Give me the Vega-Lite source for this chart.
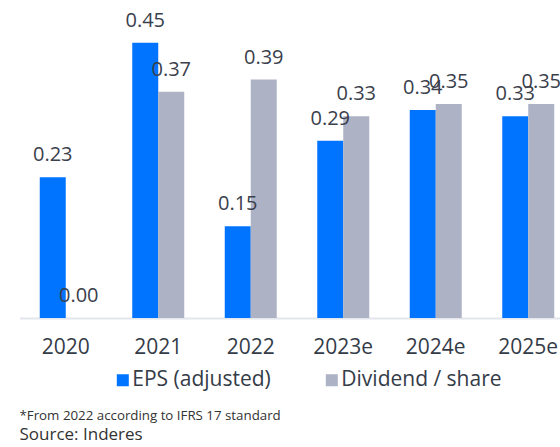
{
  "$schema": "https://vega.github.io/schema/vega-lite/v6.json",
  "autosize": "none",
  "padding": {"left": 19.5, "top": 0, "right": 0, "bottom": 129},
  "width": 555,
  "height": 318,
  "title": {
    "text": "*From 2022 according to IFRS 17 standard",
    "subtitle": "Source: Inderes",
    "orient": "bottom",
    "anchor": "start",
    "frame": "bounds",
    "font": "Open Sans",
    "fontSize": 13.3,
    "fontWeight": "normal",
    "color": "#333333",
    "subtitleFont": "Open Sans",
    "subtitleFontSize": 17,
    "subtitleColor": "#333333",
    "baseline": "top",
    "offset": 18.5,
    "subtitlePadding": 5
  },
  "data": {
    "values": [
      {"year": "2020", "series": "EPS (adjusted)", "value": 0.23},
      {"year": "2020", "series": "Dividend / share", "value": 0.0},
      {"year": "2021", "series": "EPS (adjusted)", "value": 0.45},
      {"year": "2021", "series": "Dividend / share", "value": 0.37},
      {"year": "2022", "series": "EPS (adjusted)", "value": 0.15},
      {"year": "2022", "series": "Dividend / share", "value": 0.39},
      {"year": "2023e", "series": "EPS (adjusted)", "value": 0.29},
      {"year": "2023e", "series": "Dividend / share", "value": 0.33},
      {"year": "2024e", "series": "EPS (adjusted)", "value": 0.34},
      {"year": "2024e", "series": "Dividend / share", "value": 0.35},
      {"year": "2025e", "series": "EPS (adjusted)", "value": 0.33},
      {"year": "2025e", "series": "Dividend / share", "value": 0.35}
    ]
  },
  "encoding": {
    "x": {
      "field": "year",
      "type": "nominal",
      "sort": null,
      "scale": {"paddingInner": 0.438, "paddingOuter": 0.219},
      "axis": {
        "title": null,
        "labelAngle": 0,
        "ticks": false,
        "tickSize": 0,
        "domainColor": "#e3e6eb",
        "domainWidth": 2,
        "labelFont": "Open Sans",
        "labelFontSize": 21,
        "labelColor": "#343c48",
        "labelPadding": 18.7
      }
    },
    "xOffset": {
      "field": "series",
      "type": "nominal",
      "sort": ["EPS (adjusted)", "Dividend / share"],
      "scale": {"paddingInner": 0, "paddingOuter": 0}
    },
    "y": {
      "field": "value",
      "type": "quantitative",
      "scale": {"domain": [0, 0.52], "nice": false, "zero": true},
      "axis": null
    }
  },
  "layer": [
    {
      "mark": {"type": "bar"},
      "encoding": {
        "color": {
          "field": "series",
          "type": "nominal",
          "sort": ["EPS (adjusted)", "Dividend / share"],
          "scale": {"domain": ["EPS (adjusted)", "Dividend / share"], "range": ["#0074ff", "#adb2c5"]},
          "legend": {
            "orient": "none",
            "legendX": 92.8,
            "legendY": 369.5,
            "direction": "horizontal",
            "title": null,
            "symbolType": "square",
            "symbolSize": 144,
            "symbolStrokeWidth": 0,
            "symbolOpacity": 1,
            "labelFont": "Open Sans",
            "labelFontSize": 21,
            "labelColor": "#343c48",
            "labelOffset": -1,
            "columnPadding": 50,
            "padding": 0,
            "labelLimit": 300
          }
        }
      }
    },
    {
      "mark": {
        "type": "text",
        "baseline": "alphabetic",
        "dy": -16,
        "font": "Open Sans",
        "fontSize": 20,
        "color": "#3a404c"
      },
      "encoding": {
        "text": {"field": "value", "type": "quantitative", "format": ".2f"}
      }
    }
  ],
  "config": {
    "view": {"stroke": null}
  }
}
